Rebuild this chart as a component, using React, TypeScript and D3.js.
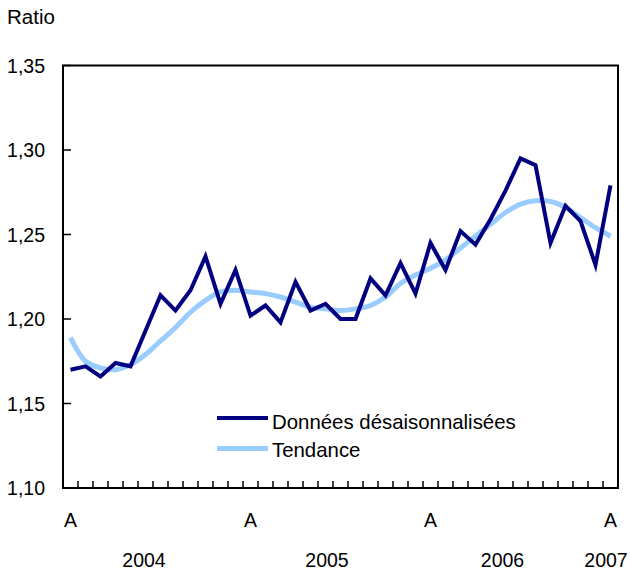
import React from "react";
import * as d3 from "d3";

const sa: number[] = [
  1.170, 1.172, 1.166, 1.174, 1.172, 1.193, 1.214, 1.205, 1.217, 1.237,
  1.209, 1.229, 1.202, 1.208, 1.198, 1.222, 1.205, 1.209, 1.200, 1.200,
  1.224, 1.214, 1.233, 1.215, 1.245, 1.229, 1.252, 1.244, 1.259, 1.276,
  1.295, 1.291, 1.245, 1.267, 1.258, 1.232, 1.279,
];

const trend: number[] = [
  1.189, 1.175, 1.171, 1.170, 1.173, 1.179, 1.187, 1.195, 1.204, 1.211,
  1.216, 1.217, 1.216, 1.215, 1.213, 1.210, 1.207, 1.206, 1.205, 1.206,
  1.208, 1.213, 1.221, 1.226, 1.230, 1.235, 1.242, 1.249, 1.256, 1.263,
  1.268, 1.270, 1.2695, 1.266, 1.260, 1.254, 1.249,
];

const yTicks: number[] = [1.10, 1.15, 1.20, 1.25, 1.30, 1.35];
const monthLabels: { idx: number; label: string }[] = [
  { idx: 0, label: "A" },
  { idx: 12, label: "A" },
  { idx: 24, label: "A" },
  { idx: 36, label: "A" },
];
const yearLabels: { pos: number; label: string }[] = [
  { pos: 4.9, label: "2004" },
  { pos: 17.1, label: "2005" },
  { pos: 28.8, label: "2006" },
  { pos: 35.7, label: "2007" },
];
const seriesNames = ["Données désaisonnalisées", "Tendance"];

const W = 630;
const H = 570;
const left = 63;
const right = 618;
const top = 65.5;
const bottom = 488;
const FONT = "'Liberation Sans', Arial, Helvetica, sans-serif";

export default function App() {
  const n = sa.length;
  const x = d3.scaleLinear().domain([-0.5, n - 0.5]).range([left, right]);
  const y = d3.scaleLinear().domain([1.1, 1.35]).range([bottom, top]);
  const loc = d3.formatLocale({ decimal: ",", thousands: " ", grouping: [3], currency: ["", ""] });
  const fmt = loc.format(".2f");
  const line = d3
    .line<number>()
    .x((_, i) => x(i))
    .y((d) => y(d));
  const trendLine = d3
    .line<number>()
    .x((_, i) => x(i))
    .y((d) => y(d))
    .curve(d3.curveCatmullRom.alpha(0.5));
  const xTicks = d3.range(0, n - 1).map((i) => i + 0.5);

  return (
    <svg width={W} height={H} style={{ position: "absolute", left: 0, top: 0, background: "#fff" }}>
      <rect x={0} y={0} width={W} height={H} fill="#fff" />
      <text x={7} y={24} fontFamily={FONT} fontSize={20.5} fill="#000">
        Ratio
      </text>
      {yTicks.map((t) => (
        <g key={t}>
          <line x1={left} x2={left + 8} y1={y(t)} y2={y(t)} stroke="#000" strokeWidth={1.5} />
          <text x={45} y={y(t) + 7} textAnchor="end" fontFamily={FONT} fontSize={19.5} fill="#000">
            {fmt(t)}
          </text>
        </g>
      ))}
      {xTicks.map((t) => (
        <line key={t} x1={x(t)} x2={x(t)} y1={bottom} y2={bottom - 7} stroke="#000" strokeWidth={1.5} />
      ))}
      <path d={trendLine(trend) || ""} fill="none" stroke="#99CCFF" strokeWidth={5} strokeLinejoin="round" />
      <path d={line(sa) || ""} fill="none" stroke="#000080" strokeWidth={4} strokeLinejoin="miter" />
      <rect x={left} y={top} width={right - left} height={bottom - top} fill="none" stroke="#000" strokeWidth={2} />
      {monthLabels.map((m) => (
        <text key={m.idx} x={x(m.idx)} y={527} textAnchor="middle" fontFamily={FONT} fontSize={19.5} fill="#000">
          {m.label}
        </text>
      ))}
      {yearLabels.map((m) => (
        <text key={m.label} x={x(m.pos)} y={567} textAnchor="middle" fontFamily={FONT} fontSize={19.5} fill="#000">
          {m.label}
        </text>
      ))}
      <g>
        <line x1={217} x2={268} y1={418} y2={418} stroke="#000080" strokeWidth={4} />
        <text x={272} y={428.5} fontFamily={FONT} fontSize={20.4} fill="#000">
          {seriesNames[0]}
        </text>
        <line x1={217} x2={268} y1={448.5} y2={448.5} stroke="#99CCFF" strokeWidth={5} />
        <text x={272} y={456.5} fontFamily={FONT} fontSize={20.4} fill="#000">
          {seriesNames[1]}
        </text>
      </g>
    </svg>
  );
}
